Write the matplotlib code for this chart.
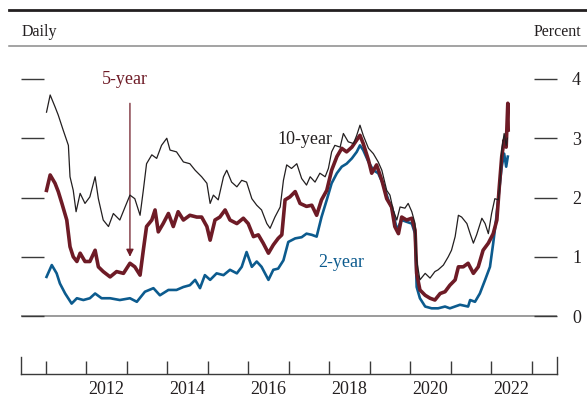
"""
Treasury yields, daily: 2-, 5- and 10-year, 2011 to mid-2022.
"""

import matplotlib
matplotlib.use("Agg")
import matplotlib.pyplot as plt
from matplotlib.lines import Line2D
import numpy as np

# ── Data (x in decimal years, y in percent) ──────────────────────────────────
T10 = [2011.02, 2011.11, 2011.23, 2011.31, 2011.43, 2011.56, 2011.60, 2011.68, 2011.75, 2011.85,
       2011.97, 2012.09, 2012.22, 2012.30, 2012.42, 2012.55, 2012.67, 2012.83, 2012.96, 2013.08,
       2013.20, 2013.33, 2013.41, 2013.49, 2013.62, 2013.74, 2013.86, 2013.99, 2014.07, 2014.23,
       2014.40, 2014.56, 2014.69, 2014.85, 2014.98, 2015.06, 2015.14, 2015.26, 2015.39, 2015.47,
       2015.59, 2015.72, 2015.84, 2015.96, 2016.09, 2016.21, 2016.33, 2016.46, 2016.54, 2016.66,
       2016.79, 2016.87, 2016.95, 2017.07, 2017.20, 2017.32, 2017.44, 2017.53, 2017.65, 2017.77,
       2017.90, 2017.98, 2018.06, 2018.14, 2018.27, 2018.35, 2018.47, 2018.60, 2018.68, 2018.76,
       2018.84, 2018.97, 2019.09, 2019.21, 2019.30, 2019.42, 2019.50, 2019.58, 2019.67, 2019.75,
       2019.87, 2019.95, 2020.04, 2020.12, 2020.16, 2020.24, 2020.37, 2020.49, 2020.61, 2020.69,
       2020.82, 2020.94, 2021.02, 2021.11, 2021.19, 2021.27, 2021.40, 2021.48, 2021.56, 2021.64,
       2021.77, 2021.85, 2021.93, 2022.01, 2022.09, 2022.18, 2022.22, 2022.26, 2022.32, 2022.37,
       2022.40]
Y10 = [3.44, 3.73, 3.53, 3.39, 3.14, 2.88, 2.35, 2.12, 1.76, 2.07,
       1.90, 2.01, 2.35, 1.98, 1.62, 1.51, 1.73, 1.62, 1.84, 2.04,
       1.98, 1.70, 2.12, 2.57, 2.72, 2.66, 2.88, 3.00, 2.80, 2.77,
       2.60, 2.57, 2.46, 2.35, 2.24, 1.90, 2.04, 1.96, 2.35, 2.46,
       2.26, 2.18, 2.29, 2.26, 1.98, 1.87, 1.79, 1.56, 1.48, 1.67,
       1.84, 2.29, 2.55, 2.49, 2.57, 2.32, 2.21, 2.35, 2.26, 2.41,
       2.35, 2.49, 2.77, 2.88, 2.85, 3.08, 2.94, 2.91, 3.05, 3.22,
       3.05, 2.83, 2.74, 2.60, 2.46, 2.12, 2.04, 1.79, 1.62, 1.84,
       1.82, 1.90, 1.76, 1.56, 0.94, 0.61, 0.72, 0.64, 0.75, 0.78,
       0.86, 1.00, 1.11, 1.34, 1.70, 1.67, 1.56, 1.39, 1.23, 1.37,
       1.65, 1.56, 1.39, 1.73, 1.98, 1.96, 2.29, 2.80, 3.08, 2.88,
       3.00]

T5 = [2011.02, 2011.11, 2011.23, 2011.31, 2011.40, 2011.52, 2011.60, 2011.68, 2011.77, 2011.85,
      2011.97, 2012.09, 2012.22, 2012.30, 2012.42, 2012.59, 2012.75, 2012.92, 2013.08, 2013.20,
      2013.33, 2013.41, 2013.49, 2013.62, 2013.70, 2013.78, 2013.90, 2014.03, 2014.15, 2014.27,
      2014.40, 2014.56, 2014.73, 2014.85, 2014.98, 2015.06, 2015.18, 2015.30, 2015.43, 2015.55,
      2015.72, 2015.88, 2016.00, 2016.13, 2016.25, 2016.37, 2016.50, 2016.62, 2016.74, 2016.83,
      2016.91, 2017.03, 2017.16, 2017.28, 2017.44, 2017.57, 2017.69, 2017.81, 2017.94, 2018.06,
      2018.19, 2018.31, 2018.43, 2018.56, 2018.68, 2018.76, 2018.84, 2018.97, 2019.05, 2019.17,
      2019.30, 2019.42, 2019.54, 2019.62, 2019.71, 2019.79, 2019.91, 2020.04, 2020.12, 2020.16,
      2020.24, 2020.37, 2020.49, 2020.61, 2020.74, 2020.86, 2020.98, 2021.11, 2021.19, 2021.31,
      2021.43, 2021.56, 2021.68, 2021.80, 2021.93, 2022.05, 2022.14, 2022.20, 2022.26, 2022.32,
      2022.37, 2022.41, 2022.42]
Y5 = [2.12, 2.38, 2.24, 2.10, 1.90, 1.62, 1.17, 1.00, 0.92, 1.06,
      0.92, 0.92, 1.11, 0.83, 0.75, 0.66, 0.75, 0.72, 0.89, 0.83,
      0.69, 1.11, 1.51, 1.62, 1.79, 1.42, 1.56, 1.73, 1.51, 1.76,
      1.62, 1.70, 1.67, 1.67, 1.51, 1.28, 1.62, 1.67, 1.79, 1.62,
      1.56, 1.65, 1.56, 1.34, 1.37, 1.23, 1.06, 1.20, 1.31, 1.37,
      1.96, 2.01, 2.10, 1.90, 1.85, 1.87, 1.70, 1.96, 2.12, 2.46,
      2.69, 2.83, 2.77, 2.85, 2.97, 3.05, 2.91, 2.63, 2.41, 2.55,
      2.29, 1.98, 1.84, 1.51, 1.39, 1.67, 1.62, 1.65, 1.45, 0.72,
      0.44, 0.35, 0.30, 0.27, 0.38, 0.41, 0.52, 0.61, 0.83, 0.83,
      0.89, 0.72, 0.83, 1.11, 1.23, 1.39, 1.62, 2.18, 2.69, 2.97,
      2.85, 3.59, 3.14]

T2 = [2011.02, 2011.15, 2011.27, 2011.35, 2011.48, 2011.64, 2011.77, 2011.93, 2012.09, 2012.22,
      2012.38, 2012.59, 2012.83, 2013.08, 2013.25, 2013.45, 2013.66, 2013.82, 2014.03, 2014.23,
      2014.40, 2014.56, 2014.69, 2014.81, 2014.93, 2015.06, 2015.22, 2015.39, 2015.55, 2015.72,
      2015.84, 2015.96, 2016.09, 2016.21, 2016.33, 2016.50, 2016.62, 2016.74, 2016.87, 2016.99,
      2017.16, 2017.32, 2017.44, 2017.57, 2017.69, 2017.81, 2017.94, 2018.06, 2018.19, 2018.31,
      2018.43, 2018.56, 2018.68, 2018.76, 2018.84, 2018.97, 2019.09, 2019.21, 2019.34, 2019.46,
      2019.58, 2019.67, 2019.79, 2019.91, 2020.04, 2020.12, 2020.16, 2020.24, 2020.37, 2020.53,
      2020.69, 2020.86, 2020.98, 2021.23, 2021.43, 2021.48, 2021.60, 2021.72, 2021.85, 2021.97,
      2022.05, 2022.12, 2022.18, 2022.26, 2022.32, 2022.37, 2022.41]
Y2 = [0.66, 0.86, 0.72, 0.55, 0.38, 0.21, 0.30, 0.27, 0.30, 0.38,
      0.30, 0.30, 0.27, 0.30, 0.24, 0.41, 0.47, 0.35, 0.44, 0.44,
      0.49, 0.52, 0.61, 0.47, 0.69, 0.61, 0.72, 0.69, 0.78, 0.72,
      0.83, 1.08, 0.83, 0.92, 0.83, 0.61, 0.78, 0.80, 0.94, 1.25,
      1.31, 1.33, 1.39, 1.37, 1.34, 1.67, 1.96, 2.24, 2.41, 2.52,
      2.57, 2.66, 2.77, 2.88, 2.80, 2.60, 2.46, 2.41, 2.21, 1.96,
      1.76, 1.45, 1.62, 1.59, 1.56, 1.39, 0.49, 0.30, 0.16, 0.13,
      0.13, 0.16, 0.13, 0.19, 0.16, 0.27, 0.24, 0.38, 0.61, 0.83,
      1.23, 1.62, 2.01, 2.52, 2.74, 2.52, 2.69]

YEAR_TICKS   = list(range(2011, 2024))
YEAR_LABELS  = ["2012", "2014", "2016", "2018", "2020", "2022"]
PCT_TICKS    = [0, 1, 2, 3, 4]

# ── Style ─────────────────────────────────────────────────────────────────────
BLACK = "#231f20"
RED   = "#6e1b26"
BLUE  = "#0c5b8e"
TICK  = "#3a3a3a"
ZERO  = "#8a8a8a"
FONT  = "Liberation Serif"

XLIM = (2010.38, 2023.62)
YLIM = (-0.30, 4.30)

plt.rcParams["font.family"] = [FONT, "DejaVu Serif"]


def make_chart(out_path: str) -> None:
    W, H = 587, 401
    fig = plt.figure(figsize=(W / 100, H / 100), dpi=100, facecolor="white")

    # pixel helpers for the layout
    def fx(px):
        return px / W

    def fy(py):
        return 1 - py / H

    left, right = 20.6, 556.8
    top, bottom = 61.2, 333.8

    # ── Main panel ──
    ax = fig.add_axes([fx(left), fy(bottom), fx(right) - fx(left), fy(top) - fy(bottom)])
    ax.set_xlim(*XLIM)
    ax.set_ylim(*YLIM)
    for spine in ax.spines.values():
        spine.set_visible(False)
    ax.set_xticks([])
    ax.set_yticks(PCT_TICKS)
    ax.set_yticklabels([str(v) for v in PCT_TICKS])
    ax.tick_params(axis="y", direction="in", length=16.5, width=1.0, color=TICK,
                   left=True, right=True, labelleft=False, labelright=True,
                   pad=11, labelsize=13, labelcolor=BLACK)
    ax.axhline(0, color=ZERO, linewidth=1.2, zorder=1)

    ax.plot(T2, Y2, color=BLUE, linewidth=1.9, zorder=3)
    ax.plot(T5, Y5, color=RED, linewidth=2.6, zorder=4)
    ax.plot(T10, Y10, color=BLACK, linewidth=0.9, zorder=5)

    ax.text(2012.95, 3.99, "5-year", color=RED, fontsize=13, ha="center", va="center")
    ax.annotate("", xy=(2013.08, 1.0), xytext=(2013.08, 3.59),
                arrowprops=dict(arrowstyle="-|>", color=RED, lw=0.9,
                                mutation_scale=11, shrinkA=0, shrinkB=0))
    ax.text(2017.4, 2.98, "10-year", color=BLACK, fontsize=13, ha="center", va="center")
    ax.text(2018.3, 0.91, "2-year", color=BLUE, fontsize=13, ha="center", va="center")

    # ── Date axis (separate strip at the bottom) ──
    axx = fig.add_axes([fx(left), fy(374), fx(right) - fx(left), fy(357) - fy(374)])
    axx.set_xlim(*XLIM)
    axx.set_ylim(0, 1)
    axx.set_yticks([])
    axx.spines["top"].set_visible(False)
    for side in ("left", "right", "bottom"):
        axx.spines[side].set_color(TICK)
        axx.spines[side].set_linewidth(1.0)
    axx.set_xticks(YEAR_TICKS)
    axx.set_xticklabels([])
    axx.tick_params(axis="x", which="major", direction="in", length=9.4, width=1.0, color=TICK)
    axx.set_xticks([int(y) + 0.5 for y in YEAR_LABELS], minor=True)
    axx.set_xticklabels(YEAR_LABELS, minor=True)
    axx.tick_params(axis="x", which="minor", length=0, pad=5, labelsize=13, labelcolor=BLACK)

    # ── Header rules and labels ──
    fig.add_artist(Line2D([fx(9.4), 1], [fy(10), fy(10)], color=BLACK, linewidth=2.0))
    fig.add_artist(Line2D([fx(9.4), 1], [fy(46), fy(46)], color=ZERO, linewidth=1.1))
    fig.text(fx(21.5), fy(32), "Daily", fontsize=11.5, color=BLACK, ha="left", va="center")
    fig.text(fx(581), fy(32), "Percent", fontsize=11.5, color=BLACK, ha="right", va="center")

    fig.savefig(out_path, dpi=100, facecolor="white")
    plt.close(fig)


def main() -> None:
    make_chart("out.png")


if __name__ == "__main__":
    main()
